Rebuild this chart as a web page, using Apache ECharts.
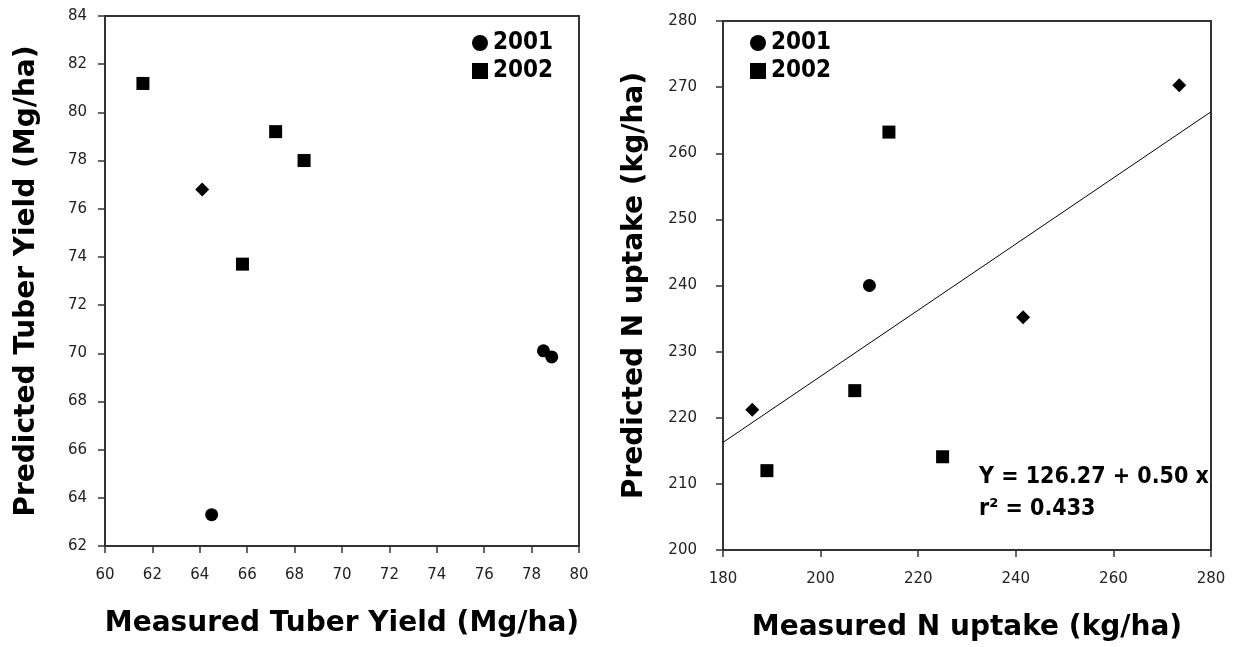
<!DOCTYPE html>
<html>
<head>
<meta charset="utf-8">
<title>Measured vs predicted tuber yield and N uptake</title>
<script src="https://cdn.jsdelivr.net/npm/echarts@6/dist/echarts.min.js"></script>
<style>
    html, body { margin: 0; padding: 0; background: #fff; }
    #chart { width: 1238px; height: 647px; }
</style>
</head>
<body>
<div id="chart"></div>
<script>
// left panel: tuber yield (Mg/ha), [measured, predicted]
var yield2001 = [[64.1, 76.8], [64.5, 63.3], [78.5, 70.1], [78.85, 69.85]];
var yield2002 = [[61.6, 81.2], [67.2, 79.2], [68.4, 78.0], [65.8, 73.7]];

// right panel: N uptake (kg/ha), [measured, predicted]
var nUptake2001 = [[273.5, 270.3], [210, 240], [241.5, 235.2], [186, 221.2]];
var nUptake2002 = [[214, 263.2], [207, 224.1], [189, 212], [225, 214.1]];

// regression of predicted on measured N uptake
var fitIntercept = 126.27;
var fitSlope = 0.50;
var fitR2 = 0.433;

var seriesNames = ["2001", "2002"];

// some 2001 points were plotted as small diamonds, others as dots
var yield2001Marks = ["diamond", "circle", "circle", "circle"];
var nUptake2001Marks = ["diamond", "circle", "diamond", "diamond"];

var AXIS_COLOR = "#333";
var TITLE_FONT = "'DejaVu Sans', sans-serif";
var TICK_FONT = "'DejaVu Sans', sans-serif";
var NARROW_FONT = "'Liberation Sans Narrow', 'DejaVu Sans Condensed', sans-serif";

function withMarks(points, marks) {
    return points.map(function (p, i) {
        var mark = marks[i];
        return {value: p, symbol: mark, symbolSize: mark == "diamond" ? 14 : 13};
    });
}

function makeXAxis(index, min, max, interval, name) {
    return {
        type: "value", gridIndex: index, min: min, max: max, interval: interval,
        name: name, nameLocation: "middle", nameGap: 64,
        nameTextStyle: {fontFamily: TITLE_FONT, fontWeight: "bold", fontSize: 28, color: "#000"},
        axisLine: {show: true, lineStyle: {color: AXIS_COLOR, width: 2}},
        axisTick: {show: true, inside: false, length: 7, lineStyle: {color: AXIS_COLOR, width: 1.5}},
        axisLabel: {margin: 22, fontFamily: TICK_FONT, fontSize: 15, color: "#222"},
        splitLine: {show: false}
    };
}

function makeYAxis(index, min, max, interval, name, gap, labelGap) {
    return {
        type: "value", gridIndex: index, min: min, max: max, interval: interval,
        name: name, nameLocation: "middle", nameGap: gap,
        nameTextStyle: {fontFamily: TITLE_FONT, fontWeight: "bold", fontSize: 28, color: "#000"},
        axisLine: {show: true, lineStyle: {color: AXIS_COLOR, width: 2}},
        axisTick: {show: true, inside: false, length: 7, lineStyle: {color: AXIS_COLOR, width: 1.5}},
        axisLabel: {margin: labelGap, fontFamily: TICK_FONT, fontSize: 15, color: "#222"},
        splitLine: {show: false}
    };
}

function makeLegend(left) {
    return {
        left: left, top: 26, orient: "vertical", itemGap: 4,
        itemWidth: 16, itemHeight: 16,
        data: [
            {name: seriesNames[0], icon: "circle"},
            {name: seriesNames[1], icon: "rect"}
        ],
        textStyle: {fontFamily: NARROW_FONT, fontWeight: "bold", fontSize: 24, color: "#000"},
        selectedMode: false
    };
}

var chart = echarts.init(document.getElementById("chart"));

var fitXs = [180, 280];
var fitLine = fitXs.map(function (x) { return [x, fitIntercept + fitSlope * x]; });

var markStyle = {color: "#000", opacity: 1};

var option = {
    backgroundColor: "#fff",
    animation: false,
    grid: [
        {left: 105, top: 16, width: 474, height: 530, show: true, borderColor: AXIS_COLOR, borderWidth: 2},
        {left: 723, top: 21, width: 488, height: 529, show: true, borderColor: AXIS_COLOR, borderWidth: 2}
    ],
    xAxis: [
        makeXAxis(0, 60, 80, 2, "Measured Tuber Yield (Mg/ha)"),
        makeXAxis(1, 180, 280, 20, "Measured N uptake (kg/ha)")
    ],
    yAxis: [
        makeYAxis(0, 62, 84, 2, "Predicted Tuber Yield (Mg/ha)", 64, 18),
        makeYAxis(1, 200, 280, 10, "Predicted N uptake (kg/ha)", 74, 26)
    ],
    legend: [makeLegend(467), makeLegend(745)],
    graphic: [{
        type: "text", left: 979, top: 461,
        style: {
            text: "Y = " + fitIntercept.toFixed(2) + " + " + fitSlope.toFixed(2) + " x\nr\u00b2 = " + fitR2.toFixed(3),
            font: "bold 23px " + NARROW_FONT,
            lineHeight: 32,
            fill: "#000"
        }
    }],
    series: [
        {name: seriesNames[0], type: "scatter", xAxisIndex: 0, yAxisIndex: 0,
            data: withMarks(yield2001, yield2001Marks), itemStyle: markStyle},
        {name: seriesNames[1], type: "scatter", xAxisIndex: 0, yAxisIndex: 0, symbol: "rect", symbolSize: 13,
            data: yield2002, itemStyle: markStyle},
        {name: seriesNames[0], type: "scatter", xAxisIndex: 1, yAxisIndex: 1,
            data: withMarks(nUptake2001, nUptake2001Marks), itemStyle: markStyle},
        {name: seriesNames[1], type: "scatter", xAxisIndex: 1, yAxisIndex: 1, symbol: "rect", symbolSize: 13,
            data: nUptake2002, itemStyle: markStyle},
        {name: "fit", type: "line", xAxisIndex: 1, yAxisIndex: 1, data: fitLine,
            showSymbol: false, symbol: "none", lineStyle: {color: "#000", width: 1}, z: 1}
    ]
};

chart.setOption(option);
window.addEventListener("resize", function () { chart.resize(); });
</script>
</body>
</html>
